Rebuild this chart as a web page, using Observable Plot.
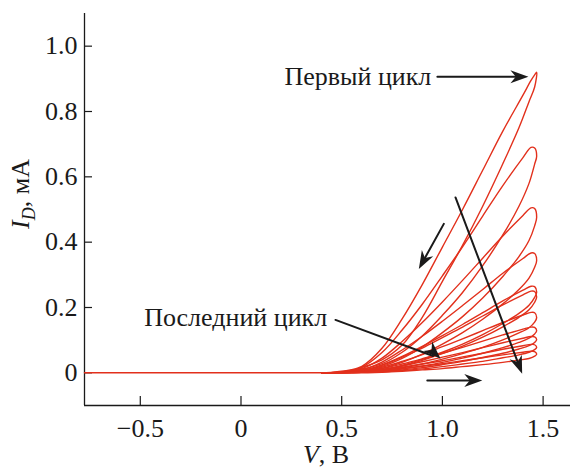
<!DOCTYPE html>
<html><head><meta charset="utf-8">
<script src="https://cdn.jsdelivr.net/npm/d3@7"></script>
<script src="https://cdn.jsdelivr.net/npm/@observablehq/plot@0.6"></script>
<style>body{margin:0;background:#fff} svg{font-family:"Liberation Serif",serif}</style>
</head><body><div id="chart"></div>
<script>
// ---- data ----
const xTicks = [-0.5, 0, 0.5, 1.0, 1.5];
const xTickLabels = ["\u22120.5", "0", "0.5", "1.0", "1.5"];
const yTicks = [0, 0.2, 0.4, 0.6, 0.8, 1.0];
const yTickLabels = ["0", "0.2", "0.4", "0.6", "0.8", "1.0"];

// flat part of the sweep (V, I)
const baseV = [-0.777, 0.4];
const baseI = [0, 0];

// voltage grid: forward (lower) branch, rounded turn at the right end, reverse (upper) branch
const vForward = [0.4, 0.55, 0.7, 0.8, 0.9, 1.0, 1.1, 1.2, 1.3, 1.38, 1.43];
const vCap = [1.458, 1.468, 1.458];
const vReverse = [1.44, 1.4, 1.3, 1.2, 1.1, 1.0, 0.9, 0.8, 0.7, 0.6, 0.5];

// currents (mA) of each cycle, first to last
const forwardI = [
  [0, 0.010, 0.040, 0.085, 0.170, 0.280, 0.390, 0.510, 0.640, 0.750, 0.830],
  [0, 0.006, 0.028, 0.063, 0.113, 0.176, 0.246, 0.328, 0.422, 0.510, 0.580],
  [0, 0.004, 0.020, 0.044, 0.079, 0.123, 0.172, 0.229, 0.295, 0.356, 0.405],
  [0, 0.003, 0.014, 0.032, 0.057, 0.088, 0.123, 0.164, 0.211, 0.255, 0.290],
  [0, 0.002, 0.010, 0.023, 0.041, 0.063, 0.088, 0.117, 0.151, 0.182, 0.207],
  [0, 0.002, 0.009, 0.021, 0.038, 0.059, 0.082, 0.109, 0.141, 0.170, 0.193],
  [0, 0.002, 0.007, 0.015, 0.027, 0.042, 0.059, 0.078, 0.101, 0.122, 0.138],
  [0, 0.001, 0.005, 0.012, 0.021, 0.032, 0.045, 0.060, 0.077, 0.093, 0.106],
  [0, 0.001, 0.004, 0.009, 0.016, 0.025, 0.035, 0.047, 0.060, 0.073, 0.083],
  [0, 0.001, 0.003, 0.007, 0.012, 0.019, 0.027, 0.035, 0.046, 0.055, 0.063],
  [0, 0.000, 0.002, 0.005, 0.009, 0.013, 0.019, 0.025, 0.032, 0.039, 0.044]
];
const capI = [
  [0.875, 0.920, 0.912],
  [0.639, 0.663, 0.688],
  [0.450, 0.476, 0.503],
  [0.323, 0.344, 0.365],
  [0.231, 0.247, 0.264],
  [0.216, 0.232, 0.249],
  [0.155, 0.169, 0.184],
  [0.119, 0.129, 0.139],
  [0.093, 0.101, 0.110],
  [0.071, 0.078, 0.086],
  [0.051, 0.057, 0.065]
];
const reverseI = [
  [0.895, 0.850, 0.740, 0.620, 0.500, 0.385, 0.270, 0.165, 0.075, 0.020, 0.003],
  [0.690, 0.659, 0.573, 0.480, 0.386, 0.297, 0.210, 0.131, 0.062, 0.017, 0.003],
  [0.505, 0.482, 0.419, 0.351, 0.283, 0.217, 0.154, 0.096, 0.045, 0.013, 0.002],
  [0.367, 0.350, 0.305, 0.255, 0.206, 0.158, 0.112, 0.070, 0.033, 0.009, 0.001],
  [0.265, 0.253, 0.220, 0.184, 0.148, 0.114, 0.081, 0.050, 0.024, 0.007, 0.001],
  [0.250, 0.239, 0.208, 0.174, 0.140, 0.108, 0.076, 0.048, 0.023, 0.006, 0.001],
  [0.185, 0.177, 0.154, 0.129, 0.104, 0.080, 0.056, 0.035, 0.017, 0.005, 0.001],
  [0.140, 0.134, 0.116, 0.097, 0.078, 0.060, 0.043, 0.027, 0.013, 0.004, 0.001],
  [0.111, 0.106, 0.092, 0.077, 0.062, 0.048, 0.034, 0.021, 0.010, 0.003, 0.000],
  [0.087, 0.083, 0.072, 0.060, 0.049, 0.037, 0.027, 0.017, 0.008, 0.002, 0.000],
  [0.066, 0.063, 0.055, 0.046, 0.037, 0.028, 0.020, 0.013, 0.006, 0.002, 0.000]
];

// annotations (data coordinates)
const labelTexts = ["Первый цикл", "Последний цикл"];
const labelV = [0.945, 0.428];
const labelI = [0.906, 0.168];
const arrowV1 = [0.975, 0.469, 1.007, 1.065, 0.925];
const arrowI1 = [0.906, 0.162, 0.456, 0.537, -0.0235];
const arrowV2 = [1.427, 0.991, 0.883, 1.396, 1.198];
const arrowI2 = [0.906, 0.043, 0.318, -0.003, -0.0235];
const arrowBend = [0, 26, 0, 0, 0];
const arrowAngle = [90, 134, 209, 159, 90];

// ---- build tables ----
const loops = [];
forwardI.forEach((f, c) => {
  vForward.forEach((v, j) => loops.push({V: v, I: f[j], cycle: c}));
  vCap.forEach((v, j) => loops.push({V: v, I: capI[c][j], cycle: c}));
  vReverse.forEach((v, j) => loops.push({V: v, I: reverseI[c][j], cycle: c}));
});
const base = baseV.map((v, i) => ({V: v, I: baseI[i]}));
const arrows = arrowV1.map((v, i) => ({x1: v, y1: arrowI1[i], x2: arrowV2[i], y2: arrowI2[i], bend: arrowBend[i], angle: arrowAngle[i]}));
const labels = labelTexts.map((t, i) => ({t, V: labelV[i], I: labelI[i]}));

const stealth = {
  draw(ctx) {
    const h = 18, w = 6.5;
    ctx.moveTo(0, 0);
    ctx.lineTo(w, h);
    ctx.lineTo(0, h * 0.7);
    ctx.lineTo(-w, h);
    ctx.closePath();
  }
};

const red = "#e2301c";
const ink = "#1a1a1a";

const chart = Plot.plot({
  width: 570, height: 470,
  marginLeft: 84, marginRight: 0, marginTop: 13, marginBottom: 65,
  style: {fontFamily: "Liberation Serif", fontSize: "26px", color: ink, background: "#fff"},
  x: {domain: [-0.777, 1.636]},
  y: {domain: [-0.1, 1.1]},
  marks: [
    Plot.axisX(xTicks, {tickSize: 0, tickPadding: 13, tickFormat: d => xTickLabels[xTicks.indexOf(d)], label: null, fontSize: 26}),
    Plot.axisY(yTicks, {tickSize: 0, tickPadding: 7, tickFormat: d => yTickLabels[yTicks.indexOf(d)], label: null, fontSize: 26}),
    Plot.tickX(xTicks, {x: d => d, insetTop: 383, stroke: ink, strokeWidth: 1.2}),
    Plot.tickY(yTicks, {y: d => d, insetRight: 478, stroke: ink, strokeWidth: 1.2}),
    Plot.ruleX([-0.777], {stroke: ink, strokeWidth: 1.3}),
    Plot.ruleY([-0.1], {stroke: ink, strokeWidth: 1.3}),
    Plot.line(base, {x: "V", y: "I", stroke: red, strokeWidth: 1.5}),
    Plot.line(loops, {x: "V", y: "I", z: "cycle", stroke: red, strokeWidth: 1.4, curve: "catmull-rom"}),
    Plot.arrow(arrows, {x1: "x1", y1: "y1", x2: "x2", y2: "y2", bend: d => d.bend, headLength: 0, insetEnd: 8, stroke: ink, strokeWidth: 2}),
    Plot.dot(arrows, {x: "x2", y: "y2", symbol: stealth, r: 5, fill: ink, stroke: "none", rotate: "angle"}),
    Plot.text(labels, {x: "V", y: "I", text: "t", textAnchor: "end", fontSize: 26, fill: ink})
  ]
});
document.getElementById("chart").append(chart);

// axis titles with italic letters and subscript
const svg = d3.select(chart);
const xl = svg.append("text").attr("x", 326).attr("y", 463).attr("text-anchor", "middle")
  .attr("font-size", 26).attr("fill", ink);
xl.append("tspan").attr("font-style", "italic").text("V");
xl.append("tspan").text(", В");
const yl = svg.append("text").attr("transform", "translate(29,194) rotate(-90)").attr("text-anchor", "middle")
  .attr("font-size", 26).attr("fill", ink);
yl.append("tspan").attr("font-style", "italic").text("I");
yl.append("tspan").attr("font-style", "italic").attr("font-size", 18).attr("dy", 6).text("D");
yl.append("tspan").attr("dy", -6).text(", мА");
</script></body></html>
